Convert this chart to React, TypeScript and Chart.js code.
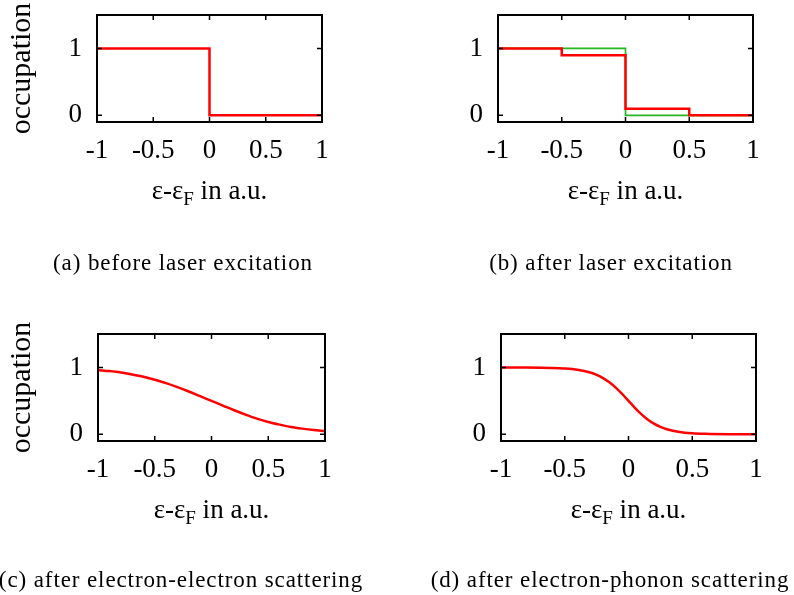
import React, { useEffect, useRef } from 'react';
import { Chart, registerables } from 'chart.js';

Chart.register(...registerables);

// ---------- data ----------
const xTickValues = [-1, -0.5, 0, 0.5, 1];
const xTickLabels = ['-1', '-0.5', '0', '0.5', '1'];
const yTickValues = [0, 1];
const yTickLabels = ['0', '1'];

// (a) before laser excitation: step function (levels start at each energy)
const aEnergy = [-1, 0, 1];
const aOccupation = [1, 0, 0];

// (b) after laser excitation
const bEnergyRed = [-1, -0.5, 0, 0.5, 1];
const bOccupationRed = [1, 0.9, 0.1, 0, 0];
const bEnergyGreen = [-1, 0, 1];
const bOccupationGreen = [1, 0, 0];

// (c) after electron-electron scattering
const cEnergy = [-1, -0.9, -0.8, -0.7, -0.6, -0.5, -0.4, -0.3, -0.2, -0.1, 0, 0.1, 0.2, 0.3, 0.4, 0.5, 0.6, 0.7, 0.8, 0.9, 1];
const cOccupation = [0.96, 0.945, 0.925, 0.895, 0.86, 0.815, 0.765, 0.705, 0.64, 0.57, 0.5, 0.43, 0.36, 0.295, 0.235, 0.185, 0.145, 0.11, 0.085, 0.065, 0.05];

// (d) after electron-phonon scattering
const dEnergy = [-1, -0.8, -0.6, -0.5, -0.4, -0.3, -0.25, -0.2, -0.15, -0.1, -0.05, 0, 0.05, 0.1, 0.15, 0.2, 0.25, 0.3, 0.4, 0.5, 0.6, 0.8, 1];
const dOccupation = [1.0, 0.999, 0.993, 0.985, 0.966, 0.924, 0.889, 0.841, 0.777, 0.697, 0.603, 0.5, 0.397, 0.303, 0.223, 0.159, 0.111, 0.076, 0.034, 0.015, 0.007, 0.001, 0.0];

const captions = [
  '(a) before laser excitation',
  '(b) after laser excitation',
  '(c) after electron-electron scattering',
  '(d) after electron-phonon scattering',
];
const xTitleParts = ['ε-ε', 'F', ' in a.u.'];
const yTitle = 'occupation';

// ---------- styling ----------
const FONT = '"Liberation Serif", "Times New Roman", serif';
const RED = '#ff0000';
const GREEN = '#22b822';

const toPoints = (xs: number[], ys: number[]) => xs.map((x, i) => ({ x, y: ys[i] }));

type PanelCfg = {
  left: number;
  top: number;
  width: number;
  height: number;
  area: { left: number; top: number; right: number; bottom: number };
  datasets: any[];
  caption: string;
  captionX: number;
  captionY: number;
  showYTitle: boolean;
};

const framePlugin = {
  id: 'frame',
  afterDatasetsDraw(chart: any) {
    const { ctx, chartArea, scales } = chart;
    const { left, top, right, bottom } = chartArea;
    const x = scales.x;
    const y = scales.y;
    ctx.save();
    ctx.strokeStyle = '#000';
    ctx.lineWidth = 2;
    ctx.strokeRect(left, top, right - left, bottom - top);
    ctx.lineWidth = 1.5;
    const L = 5;
    ctx.beginPath();
    for (const v of xTickValues) {
      if (v <= x.min || v >= x.max) continue;
      const px = x.getPixelForValue(v);
      ctx.moveTo(px, bottom);
      ctx.lineTo(px, bottom - L);
      ctx.moveTo(px, top);
      ctx.lineTo(px, top + L);
    }
    for (const v of yTickValues) {
      const py = y.getPixelForValue(v);
      ctx.moveTo(left, py);
      ctx.lineTo(left + L, py);
      ctx.moveTo(right, py);
      ctx.lineTo(right - L, py);
    }
    ctx.stroke();
    ctx.restore();
  },
  afterDraw(chart: any, _args: any, opts: any) {
    const { ctx, chartArea } = chart;
    ctx.save();
    ctx.fillStyle = '#000';
    ctx.textBaseline = 'alphabetic';
    ctx.textAlign = 'left';
    // x axis title with subscript
    const big = `27px ${FONT}`;
    const small = `19px ${FONT}`;
    ctx.font = big;
    const w1 = ctx.measureText(xTitleParts[0]).width;
    const w3 = ctx.measureText(xTitleParts[2]).width;
    ctx.font = small;
    const w2 = ctx.measureText(xTitleParts[1]).width;
    const cx = (chartArea.left + chartArea.right) / 2;
    const by = chartArea.bottom + 77;
    let xx = cx - (w1 + w2 + w3) / 2;
    ctx.font = big;
    ctx.fillText(xTitleParts[0], xx, by);
    xx += w1;
    ctx.font = small;
    ctx.fillText(xTitleParts[1], xx, by + 6);
    xx += w2;
    ctx.font = big;
    ctx.fillText(xTitleParts[2], xx, by);
    // caption
    ctx.font = `23px ${FONT}`;
    (ctx as any).letterSpacing = '0.9px';
    ctx.textAlign = 'center';
    ctx.fillText(opts.caption, opts.captionX, opts.captionY);
    ctx.restore();
  },
};

function makeConfig(cfg: PanelCfg): any {
  const { area, width, height } = cfg;
  return {
    type: 'line',
    data: { datasets: cfg.datasets },
    plugins: [framePlugin],
    options: {
      responsive: false,
      animation: false,
      events: [],
      layout: { padding: { left: 0, top: area.top, right: width - area.right, bottom: 0 } },
      elements: { point: { radius: 0 } },
      plugins: {
        legend: { display: false },
        tooltip: { enabled: false },
        frame: { caption: cfg.caption, captionX: cfg.captionX, captionY: cfg.captionY },
      },
      scales: {
        x: {
          type: 'linear',
          min: -1,
          max: 1,
          afterBuildTicks: (s: any) => {
            s.ticks = xTickValues.map((v) => ({ value: v }));
          },
          ticks: {
            callback: (_v: any, i: number) => xTickLabels[i],
            font: { family: FONT, size: 27, lineHeight: 1 },
            color: '#000',
            padding: 15,
            maxRotation: 0,
            autoSkip: false,
          },
          grid: { display: false, drawTicks: false },
          border: { display: false },
          afterFit: (s: any) => {
            s.height = height - area.bottom;
            s.paddingLeft = 0;
            s.paddingRight = 0;
          },
        },
        y: {
          type: 'linear',
          min: -0.1,
          max: 1.5,
          afterBuildTicks: (s: any) => {
            s.ticks = yTickValues.map((v) => ({ value: v }));
          },
          ticks: {
            callback: (_v: any, i: number) => yTickLabels[i],
            font: { family: FONT, size: 27, lineHeight: 1 },
            color: '#000',
            padding: 15,
            autoSkip: false,
          },
          title: {
            display: cfg.showYTitle,
            text: yTitle,
            color: '#000',
            font: { family: FONT, size: 30, lineHeight: 1.2 },
            padding: { top: 4, bottom: 0 },
          },
          grid: { display: false, drawTicks: false },
          border: { display: false },
          afterFit: (s: any) => {
            s.width = area.left;
            s.paddingTop = 0;
            s.paddingBottom = 0;
          },
        },
      },
    },
  };
}

const redLine = (xs: number[], ys: number[], stepped: any) => ({
  data: toPoints(xs, ys),
  borderColor: RED,
  borderWidth: 2.5,
  stepped,
  tension: 0,
  fill: false,
  order: 0,
});

const panels: PanelCfg[] = [
  {
    left: 0,
    top: 0,
    width: 397,
    height: 297,
    area: { left: 97, top: 15, right: 322, bottom: 122 },
    datasets: [redLine(aEnergy, aOccupation, 'before')],
    caption: captions[0],
    captionX: 183,
    captionY: 270,
    showYTitle: true,
  },
  {
    left: 397,
    top: 0,
    width: 397,
    height: 297,
    area: { left: 101, top: 15, right: 356, bottom: 122 },
    datasets: [
      redLine(bEnergyRed, bOccupationRed, 'before'),
      {
        data: toPoints(bEnergyGreen, bOccupationGreen),
        borderColor: GREEN,
        borderWidth: 1.7,
        stepped: 'before',
        fill: false,
        order: 1,
      },
    ],
    caption: captions[1],
    captionX: 214,
    captionY: 270,
    showYTitle: false,
  },
  {
    left: 0,
    top: 297,
    width: 397,
    height: 298,
    area: { left: 98, top: 37, right: 325, bottom: 144 },
    datasets: [{ ...redLine(cEnergy, cOccupation, false), cubicInterpolationMode: 'monotone' }],
    caption: captions[2],
    captionX: 181,
    captionY: 290,
    showYTitle: true,
  },
  {
    left: 397,
    top: 297,
    width: 397,
    height: 298,
    area: { left: 104, top: 37, right: 359, bottom: 144 },
    datasets: [{ ...redLine(dEnergy, dOccupation, false), cubicInterpolationMode: 'monotone' }],
    caption: captions[3],
    captionX: 213,
    captionY: 290,
    showYTitle: false,
  },
];

function Panel({ cfg }: { cfg: PanelCfg }) {
  const ref = useRef<HTMLCanvasElement>(null);
  useEffect(() => {
    const chart = new Chart(ref.current as HTMLCanvasElement, makeConfig(cfg));
    return () => chart.destroy();
  }, [cfg]);
  return (
    <canvas
      ref={ref}
      width={cfg.width}
      height={cfg.height}
      style={{ position: 'absolute', left: cfg.left, top: cfg.top, width: cfg.width, height: cfg.height }}
    />
  );
}

export default function App() {
  return (
    <div style={{ position: 'absolute', left: 0, top: 0, width: 794, height: 595, background: '#fff', overflow: 'hidden' }}>
      {panels.map((p, i) => (
        <Panel key={i} cfg={p} />
      ))}
    </div>
  );
}
